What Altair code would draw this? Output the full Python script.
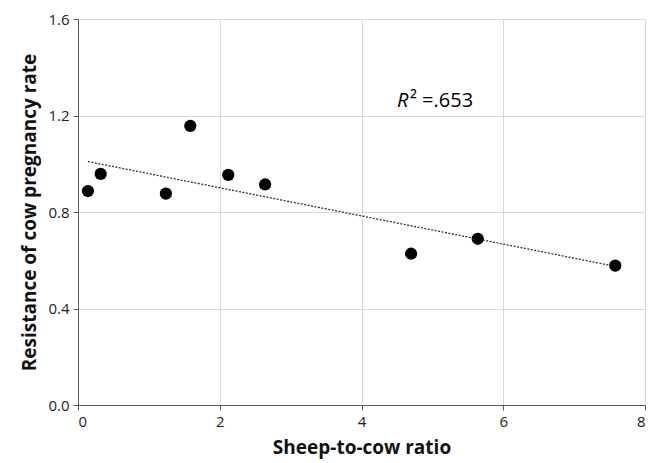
import altair as alt
import pandas as pd

ratio = [0.14, 0.32, 1.24, 1.585, 2.12, 2.64, 4.70, 5.64, 7.58]
resistance = [0.887, 0.958, 0.876, 1.157, 0.954, 0.914, 0.627, 0.689, 0.578]
x_ticks = [0, 2, 4, 6, 8]
y_ticks = [0.0, 0.4, 0.8, 1.2, 1.6]

df = pd.DataFrame({"ratio": ratio, "res": resistance})
FONT = "Open Sans"

xs = alt.Scale(domain=[0, 8], nice=False)
ys = alt.Scale(domain=[0, 1.6], nice=False)

xax = alt.Axis(values=x_ticks, format="d", title="Sheep-to-cow ratio", grid=True,
               gridColor="#d9d9d9", domainColor="#595959", tickColor="#595959",
               labelFont=FONT, labelFontSize=15, labelColor="#222",
               titleFont=FONT, titleFontSize=19, titleFontWeight="bold", titleColor="#111",
               titlePadding=9, labelPadding=4, tickSize=5)
yax = alt.Axis(values=y_ticks, format=".1f", title="Resistance of cow pregnancy rate", grid=True,
               gridColor="#d9d9d9", domainColor="#595959", tickColor="#595959",
               labelFont=FONT, labelFontSize=15, labelColor="#222",
               titleFont=FONT, titleFontSize=19, titleFontWeight="bold", titleColor="#111",
               titlePadding=8, labelPadding=4, tickSize=5)

points = alt.Chart(df).mark_circle(size=150, color="black", opacity=1).encode(
    x=alt.X("ratio:Q", scale=xs, axis=xax),
    y=alt.Y("res:Q", scale=ys, axis=yax),
)

trend = alt.Chart(df).transform_regression("ratio", "res").mark_line(
    color="#333", strokeDash=[2, 1.5], strokeWidth=1.3
).encode(x=alt.X("ratio:Q", scale=xs), y=alt.Y("res:Q", scale=ys))

ann = pd.DataFrame({"x": [4.5], "y": [1.2], "t1": ["R"], "t2": ["² =.653"]})
r_txt = alt.Chart(ann).mark_text(font=FONT, fontSize=20, fontStyle="italic", align="left",
                                 baseline="bottom", dy=-5, color="black").encode(
    x=alt.X("x:Q", scale=xs), y=alt.Y("y:Q", scale=ys), text="t1:N")
r_txt2 = alt.Chart(ann).mark_text(font=FONT, fontSize=20, align="left",
                                  baseline="bottom", dy=-5, dx=13, color="black").encode(
    x=alt.X("x:Q", scale=xs), y=alt.Y("y:Q", scale=ys), text="t2:N")

chart = alt.layer(trend, points, r_txt, r_txt2).properties(
    width=567, height=386,
    autosize=alt.AutoSizeParams(type="none"),
    padding={"left": 70, "top": 11, "right": 8, "bottom": 58},
).configure_view(stroke=None).configure(background="white")

chart.save("out.html", embed_options={"renderer": "svg", "actions": False})
